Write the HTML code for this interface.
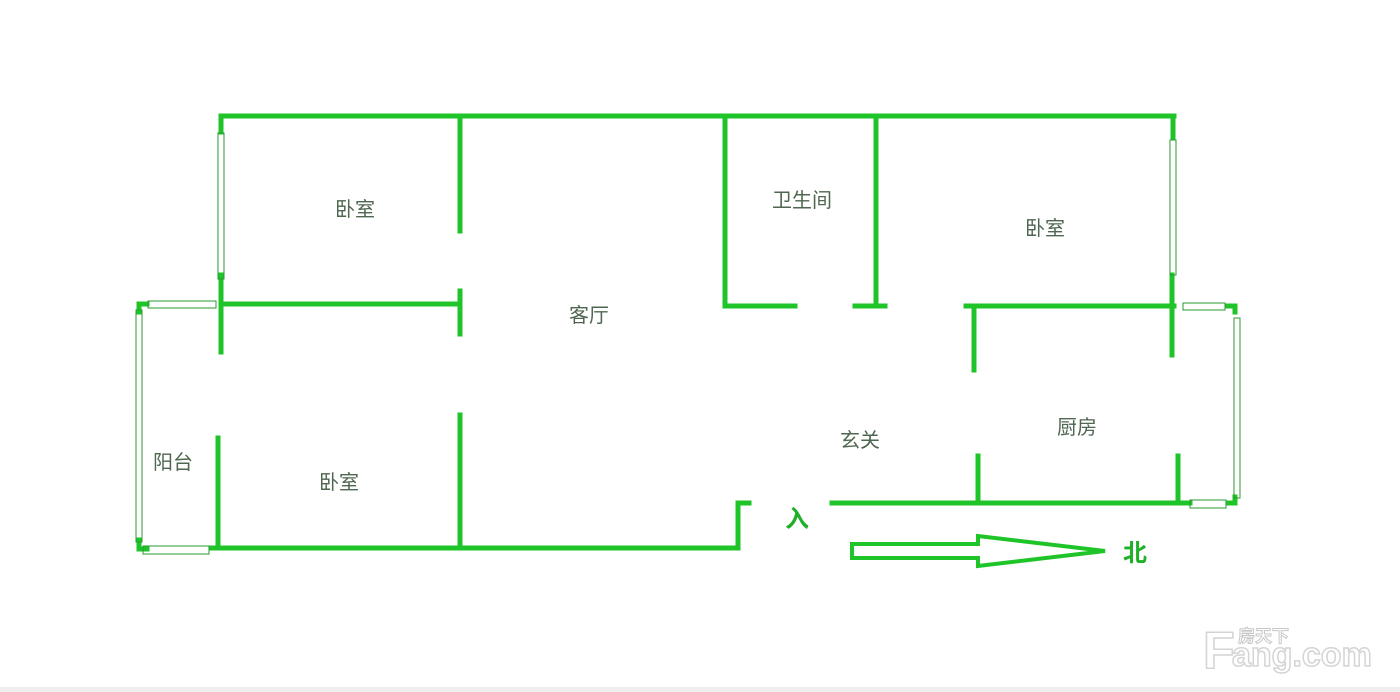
<!DOCTYPE html>
<html><head><meta charset="utf-8"><style>
html,body{margin:0;padding:0;background:#fff;}
svg{display:block}
text{font-family:"Liberation Sans","Noto Sans CJK SC",sans-serif;}
</style></head><body>
<svg width="1400" height="692" viewBox="0 0 1400 692" xmlns="http://www.w3.org/2000/svg">
<rect width="1400" height="692" fill="#fff"/>
<g stroke="#1fc428" stroke-width="5" fill="none" stroke-linecap="square">
<line x1="221" y1="116" x2="1174" y2="116"/>
<line x1="221" y1="116" x2="221" y2="132"/>
<line x1="221" y1="275" x2="221" y2="352"/>
<line x1="460" y1="116" x2="460" y2="231"/>
<line x1="221" y1="304" x2="460" y2="304"/>
<line x1="460" y1="291" x2="460" y2="334"/>
<line x1="460" y1="415" x2="460" y2="548"/>
<line x1="212" y1="548" x2="738" y2="548"/>
<line x1="738" y1="503" x2="738" y2="548"/>
<line x1="738" y1="503" x2="749" y2="503"/>
<line x1="218" y1="438" x2="218" y2="545"/>
<line x1="832" y1="503" x2="1190" y2="503"/>
<line x1="978" y1="456" x2="978" y2="503"/>
<line x1="1178" y1="456" x2="1178" y2="503"/>
<line x1="725" y1="116" x2="725" y2="306"/>
<line x1="725" y1="306" x2="795" y2="306"/>
<line x1="855" y1="306" x2="885" y2="306"/>
<line x1="876" y1="116" x2="876" y2="306"/>
<line x1="966" y1="306" x2="1174" y2="306"/>
<line x1="974" y1="306" x2="974" y2="370"/>
<line x1="1173" y1="116" x2="1173" y2="138"/>
<line x1="1172" y1="275" x2="1172" y2="355"/>
<line x1="1228" y1="306" x2="1235" y2="306"/>
<line x1="1235" y1="306" x2="1235" y2="312"/>
<line x1="1235" y1="497" x2="1235" y2="503"/>
<line x1="1228" y1="503" x2="1235" y2="503"/>
<line x1="139" y1="304" x2="147" y2="304"/>
<line x1="139" y1="304" x2="139" y2="312"/>
<line x1="139" y1="540" x2="139" y2="549"/>
<line x1="139" y1="549" x2="147" y2="549"/>
</g>
<g stroke="#2a9a32" stroke-width="1" fill="none">
<rect x="218" y="133" width="6" height="146"/>
<rect x="1170" y="140" width="6" height="135"/>
<rect x="148" y="301" width="68" height="7"/>
<rect x="136" y="310" width="6" height="232"/>
<rect x="143" y="546" width="66" height="8"/>
<rect x="1183" y="303" width="42" height="7"/>
<rect x="1234" y="318" width="6" height="180"/>
<rect x="1190" y="500" width="36" height="8"/>
</g>
<g font-size="20" fill="#4f6650" text-anchor="middle">
<text x="355" y="216">卧室</text>
<text x="589" y="322">客厅</text>
<text x="802" y="207">卫生间</text>
<text x="1045" y="235">卧室</text>
<text x="860" y="447">玄关</text>
<text x="1077" y="434">厨房</text>
<text x="173" y="469">阳台</text>
<text x="339" y="489">卧室</text>
</g>
<text x="797" y="527" font-size="24" font-weight="bold" fill="#1fb02a" text-anchor="middle">入</text>
<polygon points="852,544 978,544 978,536 1105,551 978,566 978,558 852,558" fill="none" stroke="#1fc428" stroke-width="4"/>
<text x="1135" y="561" font-size="24" font-weight="bold" fill="#1fb02a" text-anchor="middle">北</text>
<text x="1203" y="668" font-size="52" font-weight="bold" fill="#fff" stroke="#d4d4d4" stroke-width="1.5">F</text>
<text x="1238" y="642" font-size="17" font-weight="bold" fill="#fff" stroke="#c8c8c8" stroke-width="1">房天下</text>
<text x="1232" y="666" font-size="34" font-weight="bold" fill="#fff" stroke="#d4d4d4" stroke-width="1.5">ang.com</text>
<rect x="0" y="687" width="1400" height="5" fill="#eee"/>
</svg>
</body></html>
